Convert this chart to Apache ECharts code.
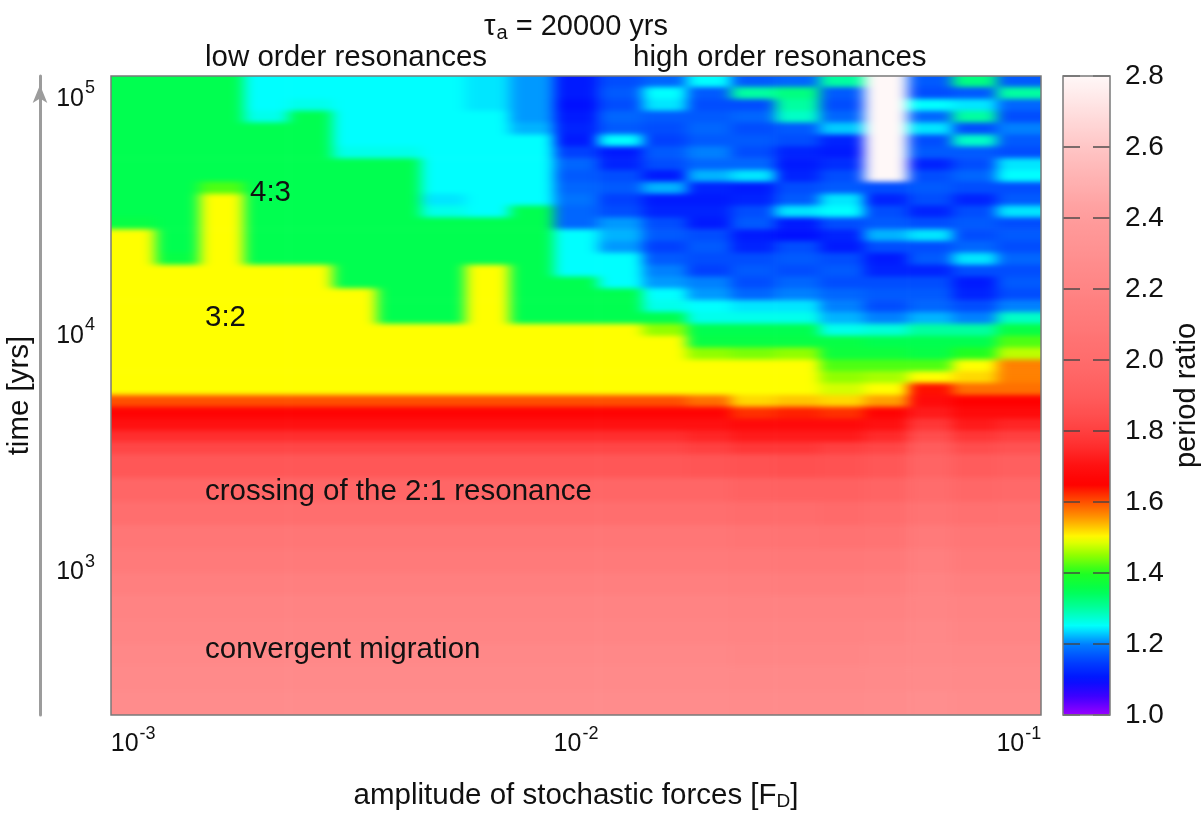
<!DOCTYPE html>
<html>
<head>
<meta charset="utf-8">
<script src="https://cdn.jsdelivr.net/npm/echarts@6/dist/echarts.min.js"></script>
<style>
html,body{margin:0;padding:0;background:#ffffff;}
#chart{width:1201px;height:817px;}
</style>
</head>
<body>
<svg width="0" height="0" style="position:absolute">
  <defs>
    <filter id="smooth" x="-5%" y="-5%" width="110%" height="110%" color-interpolation-filters="sRGB">
      <feGaussianBlur stdDeviation="7 2.5"/>
    </filter>
  </defs>
</svg>
<div id="chart"></div>
<script>
// ---------------- data ----------------
// cell edges along the amplitude axis (F_D): 21 columns centred on 1e-3 ... 1e-1, 0.1 decade apart
const amplitudeEdges = [0.000891, 0.001122, 0.001413, 0.001778, 0.002239, 0.002818, 0.003548, 0.004467,
  0.005623, 0.007079, 0.008913, 0.01122, 0.01413, 0.01778, 0.02239, 0.02818, 0.03548, 0.04467,
  0.05623, 0.07079, 0.08913, 0.1122];

// cell edges along the time axis (yrs), listed from the top row to the bottom row (43 rows)
const timeEdges = [125000, 112202, 100000, 89125, 79433, 70795, 63096, 56234, 50119, 44668, 39811,
  35481, 31623, 28184, 25119, 22387, 19953, 17783, 15849, 14125, 12589, 11220, 10000, 8913, 7943,
  7079, 6310, 5623, 5012, 4467, 3981, 3548, 3162, 2512, 1995, 1585, 1259, 1000, 794, 631, 501,
  398, 316, 250];

// period ratio, one array per amplitude column, values from the top row to the bottom row
const periodRatio = [
  [1.35,1.35,1.35,1.35,1.35,1.35,1.35,1.35,1.35,1.35,1.35,1.35,1.36,1.5,1.5,1.5,1.5,1.5,1.5,1.5,1.5,1.5,1.5,1.5,1.5,1.5,1.5,1.6,1.66,1.7,1.76,1.82,1.88,1.96,2.02,2.08,2.12,2.16,2.19,2.21,2.23,2.25,2.27],
  [1.35,1.35,1.35,1.35,1.35,1.35,1.35,1.35,1.35,1.35,1.35,1.35,1.35,1.35,1.35,1.36,1.5,1.5,1.5,1.5,1.5,1.5,1.5,1.5,1.5,1.5,1.5,1.6,1.66,1.7,1.76,1.82,1.88,1.96,2.02,2.08,2.12,2.16,2.19,2.21,2.23,2.25,2.27],
  [1.35,1.35,1.35,1.35,1.35,1.35,1.35,1.35,1.35,1.42,1.5,1.5,1.5,1.5,1.5,1.5,1.5,1.5,1.5,1.5,1.5,1.5,1.5,1.5,1.5,1.5,1.5,1.6,1.66,1.7,1.76,1.82,1.88,1.96,2.02,2.08,2.12,2.16,2.19,2.21,2.23,2.25,2.27],
  [1.25,1.25,1.25,1.26,1.35,1.35,1.35,1.35,1.35,1.35,1.35,1.35,1.35,1.35,1.35,1.35,1.5,1.5,1.5,1.5,1.5,1.5,1.5,1.5,1.5,1.5,1.5,1.6,1.66,1.7,1.76,1.82,1.88,1.96,2.02,2.08,2.12,2.16,2.19,2.21,2.23,2.25,2.27],
  [1.25,1.25,1.26,1.35,1.35,1.35,1.35,1.35,1.35,1.35,1.35,1.35,1.35,1.35,1.35,1.35,1.5,1.5,1.5,1.5,1.5,1.5,1.5,1.5,1.5,1.5,1.5,1.6,1.66,1.7,1.76,1.82,1.88,1.96,2.02,2.08,2.12,2.16,2.19,2.21,2.23,2.25,2.27],
  [1.25,1.25,1.25,1.25,1.25,1.25,1.26,1.35,1.35,1.35,1.35,1.35,1.35,1.35,1.35,1.35,1.35,1.35,1.5,1.5,1.5,1.5,1.5,1.5,1.5,1.5,1.5,1.6,1.66,1.7,1.76,1.82,1.88,1.96,2.02,2.08,2.12,2.16,2.19,2.21,2.23,2.25,2.27],
  [1.25,1.25,1.25,1.25,1.25,1.25,1.26,1.35,1.35,1.35,1.35,1.35,1.35,1.35,1.35,1.35,1.35,1.35,1.35,1.35,1.35,1.5,1.5,1.5,1.5,1.5,1.5,1.6,1.66,1.7,1.76,1.82,1.88,1.96,2.02,2.08,2.12,2.16,2.19,2.21,2.23,2.25,2.27],
  [1.25,1.25,1.25,1.25,1.25,1.25,1.25,1.25,1.25,1.25,1.24,1.26,1.35,1.35,1.35,1.35,1.35,1.35,1.35,1.35,1.35,1.5,1.5,1.5,1.5,1.5,1.5,1.6,1.66,1.7,1.76,1.82,1.88,1.96,2.02,2.08,2.12,2.16,2.19,2.21,2.23,2.25,2.27],
  [1.24,1.24,1.24,1.25,1.25,1.25,1.25,1.25,1.25,1.25,1.25,1.25,1.35,1.35,1.35,1.35,1.5,1.5,1.5,1.5,1.5,1.5,1.5,1.5,1.5,1.5,1.5,1.6,1.66,1.7,1.76,1.82,1.88,1.96,2.02,2.08,2.12,2.16,2.19,2.21,2.23,2.25,2.27],
  [1.21,1.21,1.21,1.21,1.22,1.25,1.25,1.25,1.25,1.25,1.25,1.35,1.35,1.35,1.35,1.35,1.35,1.35,1.35,1.35,1.35,1.5,1.5,1.5,1.5,1.5,1.5,1.6,1.66,1.7,1.76,1.82,1.88,1.96,2.02,2.08,2.12,2.16,2.19,2.21,2.23,2.25,2.27],
  [1.11,1.11,1.1,1.11,1.12,1.11,1.15,1.18,1.17,1.18,1.19,1.18,1.18,1.25,1.25,1.25,1.25,1.35,1.35,1.35,1.35,1.5,1.5,1.5,1.5,1.5,1.5,1.6,1.66,1.7,1.76,1.82,1.88,1.96,2.02,2.08,2.12,2.16,2.19,2.21,2.23,2.25,2.27],
  [1.16,1.17,1.16,1.18,1.17,1.25,1.11,1.12,1.16,1.17,1.15,1.16,1.21,1.22,1.21,1.25,1.25,1.25,1.35,1.35,1.35,1.5,1.5,1.5,1.5,1.5,1.5,1.6,1.66,1.7,1.76,1.82,1.88,1.96,2.02,2.08,2.12,2.16,2.19,2.21,2.23,2.25,2.27],
  [1.18,1.25,1.24,1.17,1.16,1.15,1.17,1.16,1.11,1.22,1.11,1.12,1.16,1.17,1.15,1.17,1.2,1.21,1.25,1.26,1.35,1.45,1.5,1.5,1.5,1.5,1.5,1.6,1.66,1.7,1.76,1.82,1.88,1.96,2.02,2.08,2.12,2.16,2.19,2.21,2.23,2.25,2.27],
  [1.25,1.17,1.16,1.17,1.18,1.17,1.2,1.18,1.22,1.12,1.11,1.12,1.11,1.16,1.17,1.16,1.15,1.2,1.21,1.25,1.26,1.35,1.36,1.45,1.5,1.5,1.5,1.58,1.66,1.7,1.74,1.8,1.87,1.96,2.02,2.08,2.12,2.16,2.19,2.21,2.23,2.25,2.27],
  [1.17,1.3,1.16,1.18,1.16,1.17,1.16,1.18,1.24,1.11,1.12,1.16,1.17,1.11,1.12,1.16,1.17,1.16,1.18,1.24,1.26,1.35,1.36,1.44,1.5,1.5,1.5,1.52,1.62,1.68,1.72,1.78,1.86,1.94,2.0,2.07,2.11,2.15,2.18,2.2,2.22,2.24,2.26],
  [1.18,1.32,1.3,1.28,1.17,1.16,1.12,1.11,1.12,1.16,1.17,1.24,1.11,1.1,1.16,1.17,1.16,1.18,1.2,1.24,1.26,1.35,1.36,1.45,1.5,1.5,1.5,1.53,1.63,1.68,1.72,1.78,1.85,1.93,2.0,2.06,2.1,2.14,2.18,2.2,2.22,2.24,2.26],
  [1.3,1.17,1.16,1.18,1.23,1.12,1.11,1.13,1.16,1.17,1.24,1.25,1.16,1.12,1.11,1.16,1.17,1.16,1.18,1.2,1.22,1.26,1.36,1.37,1.42,1.45,1.48,1.52,1.62,1.68,1.72,1.8,1.86,1.93,1.99,2.05,2.1,2.14,2.18,2.2,2.22,2.24,2.26],
  [2.8,2.8,2.8,2.8,2.8,2.8,2.8,2.8,2.8,1.16,1.12,1.16,1.17,1.22,1.16,1.11,1.12,1.16,1.17,1.16,1.2,1.27,1.35,1.37,1.42,1.46,1.5,1.55,1.66,1.7,1.75,1.82,1.88,1.95,2.01,2.06,2.11,2.15,2.18,2.21,2.23,2.25,2.27],
  [1.17,1.16,1.25,1.18,1.24,1.16,1.17,1.12,1.16,1.17,1.16,1.12,1.16,1.24,1.16,1.17,1.12,1.16,1.17,1.18,1.22,1.3,1.35,1.36,1.42,1.5,1.64,1.68,1.72,1.78,1.84,1.9,1.95,2.0,2.06,2.12,2.16,2.19,2.21,2.23,2.24,2.26,2.28],
  [1.32,1.17,1.24,1.3,1.16,1.28,1.17,1.16,1.18,1.16,1.12,1.16,1.17,1.16,1.18,1.24,1.16,1.11,1.12,1.16,1.2,1.3,1.35,1.4,1.5,1.52,1.58,1.65,1.68,1.72,1.78,1.84,1.9,1.97,2.03,2.08,2.12,2.16,2.19,2.21,2.23,2.25,2.27],
  [1.17,1.3,1.18,1.16,1.2,1.17,1.16,1.24,1.25,1.16,1.17,1.24,1.16,1.17,1.16,1.18,1.16,1.17,1.16,1.2,1.28,1.36,1.42,1.47,1.57,1.57,1.58,1.65,1.68,1.74,1.8,1.86,1.92,1.98,2.04,2.08,2.12,2.16,2.19,2.21,2.23,2.25,2.27]
];

const ratioRange = [1.0, 2.8];
const ratioTickStep = 0.2;

const annotations = [
  { text: '4:3', x: 250, y: 193 },
  { text: '3:2', x: 205, y: 318 },
  { text: 'crossing of the 2:1 resonance', x: 205, y: 492 },
  { text: 'convergent migration', x: 205, y: 650 },
  { text: 'low order resonances', x: 205, y: 58 },
  { text: 'high order resonances', x: 633, y: 58 }
];

// ---------------- style / layout ----------------
const FONT = "'Liberation Sans', Arial, Helvetica, sans-serif";
const INK = '#111111';
const W = 1201, H = 817;
const PLOT = { left: 111, top: 76, width: 930, height: 639 };
const CBAR = { left: 1063, top: 76, width: 47, height: 639 };
const EDGE_PAD = 24; // outer cells extend under the clip so the smoothing does not fade at the frame
const PALETTE = ['#9a00ff','#4000ff','#0010ff','#0040ff','#0080ff','#00ffff','#00ffa0','#00ff50',
  '#20ff20','#90ff00','#ffff00','#ffa000','#ff5000','#ff0000','#ff1010','#ff2a2a','#ff4040',
  '#ff5050','#ff5c5c','#ff6464','#ff6c6c','#ff7272','#ff7878','#ff7e7e','#ff8484','#ff8a8a',
  '#ff9090','#ff9696','#ff9c9c','#ffa5a5','#ffb0b0','#ffbaba','#ffc6c6','#ffd2d2','#ffdfdf',
  '#ffebeb','#fff8f8'];

const X_MIN = amplitudeEdges[0], X_MAX = amplitudeEdges[amplitudeEdges.length - 1];
const T_MAX = timeEdges[0], T_MIN = timeEdges[timeEdges.length - 1];
const N_COLS = periodRatio.length, N_ROWS = timeEdges.length - 1;

// cells: [amplitude centre, time centre, ratio, column index, row index]
const cells = [];
periodRatio.forEach(function (col, i) {
  col.forEach(function (v, j) {
    cells.push([Math.sqrt(amplitudeEdges[i] * amplitudeEdges[i + 1]),
                Math.sqrt(timeEdges[j] * timeEdges[j + 1]), v, i, j]);
  });
});

function powerLabel(v) {
  const e = Math.log10(v);
  const r = Math.round(e);
  if (Math.abs(e - r) > 1e-3) return '';
  return '{b|10}{s|' + r + '}';
}
const powerRich = {
  b: { fontSize: 25, fontFamily: FONT, color: INK },
  s: { fontSize: 18, fontFamily: FONT, color: INK, padding: [0, 0, 21, 1] }
};

function renderCell(params, api) {
  const i = api.value(3), j = api.value(4);
  const a = api.coord([amplitudeEdges[i], timeEdges[j]]);
  const b = api.coord([amplitudeEdges[i + 1], timeEdges[j + 1]]);
  let x0 = Math.min(a[0], b[0]), x1 = Math.max(a[0], b[0]) + 0.6;
  let y0 = Math.min(a[1], b[1]), y1 = Math.max(a[1], b[1]) + 0.6;
  if (i === 0) x0 -= EDGE_PAD;
  if (i === N_COLS - 1) x1 += EDGE_PAD;
  if (j === 0) y0 -= EDGE_PAD;
  if (j === N_ROWS - 1) y1 += EDGE_PAD;
  return { type: 'rect', shape: { x: x0, y: y0, width: x1 - x0, height: y1 - y0 },
           style: { fill: api.visual('color') } };
}

const graphics = [
  { type: 'rect', silent: true, zlevel: 2, z: 100,
    shape: { x: PLOT.left, y: PLOT.top, width: PLOT.width, height: PLOT.height },
    style: { fill: 'rgba(0,0,0,0)', stroke: '#7a7a7a', lineWidth: 1.5 } },
  { type: 'rect', silent: true, zlevel: 2, z: 100,
    shape: { x: CBAR.left, y: CBAR.top, width: CBAR.width, height: CBAR.height },
    style: { fill: 'rgba(0,0,0,0)', stroke: '#7a7a7a', lineWidth: 1.5 } },
  { type: 'text', silent: true, zlevel: 2, z: 100, x: 576, y: 27,
    style: { text: 'τ{s|a} = 20000 yrs', fontSize: 29, fontFamily: FONT, fill: INK,
      align: 'center', verticalAlign: 'middle',
      rich: { s: { fontSize: 20, fontFamily: FONT, fill: INK, padding: [12, 0, 0, 1] } } } }
];
annotations.forEach(function (a) {
  graphics.push({ type: 'text', silent: true, zlevel: 2, z: 100, x: a.x, y: a.y,
    style: { text: a.text, fontSize: 29.5, fontFamily: FONT, fill: INK, align: 'left', verticalAlign: 'middle' } });
});

const chart = echarts.init(document.getElementById('chart'), null, { renderer: 'canvas' });
chart.setOption({
  animation: false,
  backgroundColor: '#ffffff',
  grid: [
    { left: PLOT.left, top: PLOT.top, width: PLOT.width, height: PLOT.height, outerBoundsMode: 'none', containLabel: false },
    { left: CBAR.left, top: CBAR.top, width: CBAR.width, height: CBAR.height, outerBoundsMode: 'none', containLabel: false }
  ],
  xAxis: [
    { gridIndex: 0, type: 'log', logBase: 10, min: X_MIN, max: X_MAX,
      axisLine: { show: false }, axisTick: { show: false }, splitLine: { show: false },
      axisLabel: { margin: 10, formatter: powerLabel, rich: powerRich },
      name: '{n|amplitude of stochastic forces [F}{d|D}{n|]}', nameLocation: 'middle', nameGap: 66,
      nameTextStyle: { rich: {
        n: { fontSize: 29.5, fontFamily: FONT, color: INK },
        d: { fontSize: 19, fontFamily: FONT, color: INK, padding: [11, 0, 0, 0] } } } },
    { gridIndex: 1, type: 'value', show: false, min: 0, max: 1 }
  ],
  yAxis: [
    { gridIndex: 0, type: 'log', logBase: 10, min: T_MIN, max: T_MAX, position: 'left',
      axisLine: { show: false }, axisTick: { show: false }, splitLine: { show: false },
      axisLabel: { margin: 16, formatter: powerLabel, rich: powerRich } },
    { gridIndex: 0, type: 'log', logBase: 10, min: T_MIN, max: T_MAX, position: 'left', offset: 71,
      axisLine: { show: true, lineStyle: { color: '#9c9c9c', width: 3 },
        symbol: ['none', 'arrow'], symbolSize: [11, 18], symbolOffset: [0, -9] },
      axisTick: { show: false }, axisLabel: { show: false }, splitLine: { show: false },
      name: 'time [yrs]', nameLocation: 'middle', nameGap: 5,
      nameTextStyle: { fontSize: 29.5, fontFamily: FONT, color: INK } },
    { gridIndex: 1, type: 'value', min: ratioRange[0], max: ratioRange[1], interval: ratioTickStep,
      position: 'right', z: 10,
      axisLine: { show: false }, axisTick: { show: false },
      splitLine: { show: true, lineStyle: { color: '#444444', opacity: 0.7, width: 2, type: [17, 13] } },
      axisLabel: { margin: 15, fontSize: 28, fontFamily: FONT, color: INK,
        formatter: function (v) { return v.toFixed(1); } },
      name: 'period ratio', nameLocation: 'middle', nameRotate: 90, nameGap: 62,
      nameTextStyle: { fontSize: 29, fontFamily: FONT, color: INK } }
  ],
  visualMap: {
    type: 'continuous', seriesIndex: 0, dimension: 2,
    min: ratioRange[0], max: ratioRange[1],
    calculable: false, hoverLink: false, realtime: false,
    orient: 'vertical', left: CBAR.left, top: CBAR.top, padding: 0,
    itemWidth: CBAR.width, itemHeight: CBAR.height, z: 4,
    inRange: { color: PALETTE }
  },
  series: [{
    type: 'custom',
    name: 'period ratio',
    zlevel: 1,
    xAxisIndex: 0, yAxisIndex: 0,
    renderItem: renderCell,
    dimensions: ['amplitude', 'time', 'ratio', 'col', 'row'],
    encode: { x: 0, y: 1, tooltip: 2 },
    data: cells,
    clip: false,
    silent: true
  }],
  graphic: graphics
});

// smooth the cell layer like the interpolated original, clipped to the plot frame
(function () {
  const painter = chart.getZr().painter;
  const layer = painter && painter.getLayer ? painter.getLayer(1) : null;
  if (layer && layer.dom) {
    layer.dom.style.filter = 'url(#smooth)';
    layer.dom.style.clipPath = 'inset(' + PLOT.top + 'px ' + (W - PLOT.left - PLOT.width) + 'px ' +
      (H - PLOT.top - PLOT.height) + 'px ' + PLOT.left + 'px)';
  }
})();
</script>
</body>
</html>
